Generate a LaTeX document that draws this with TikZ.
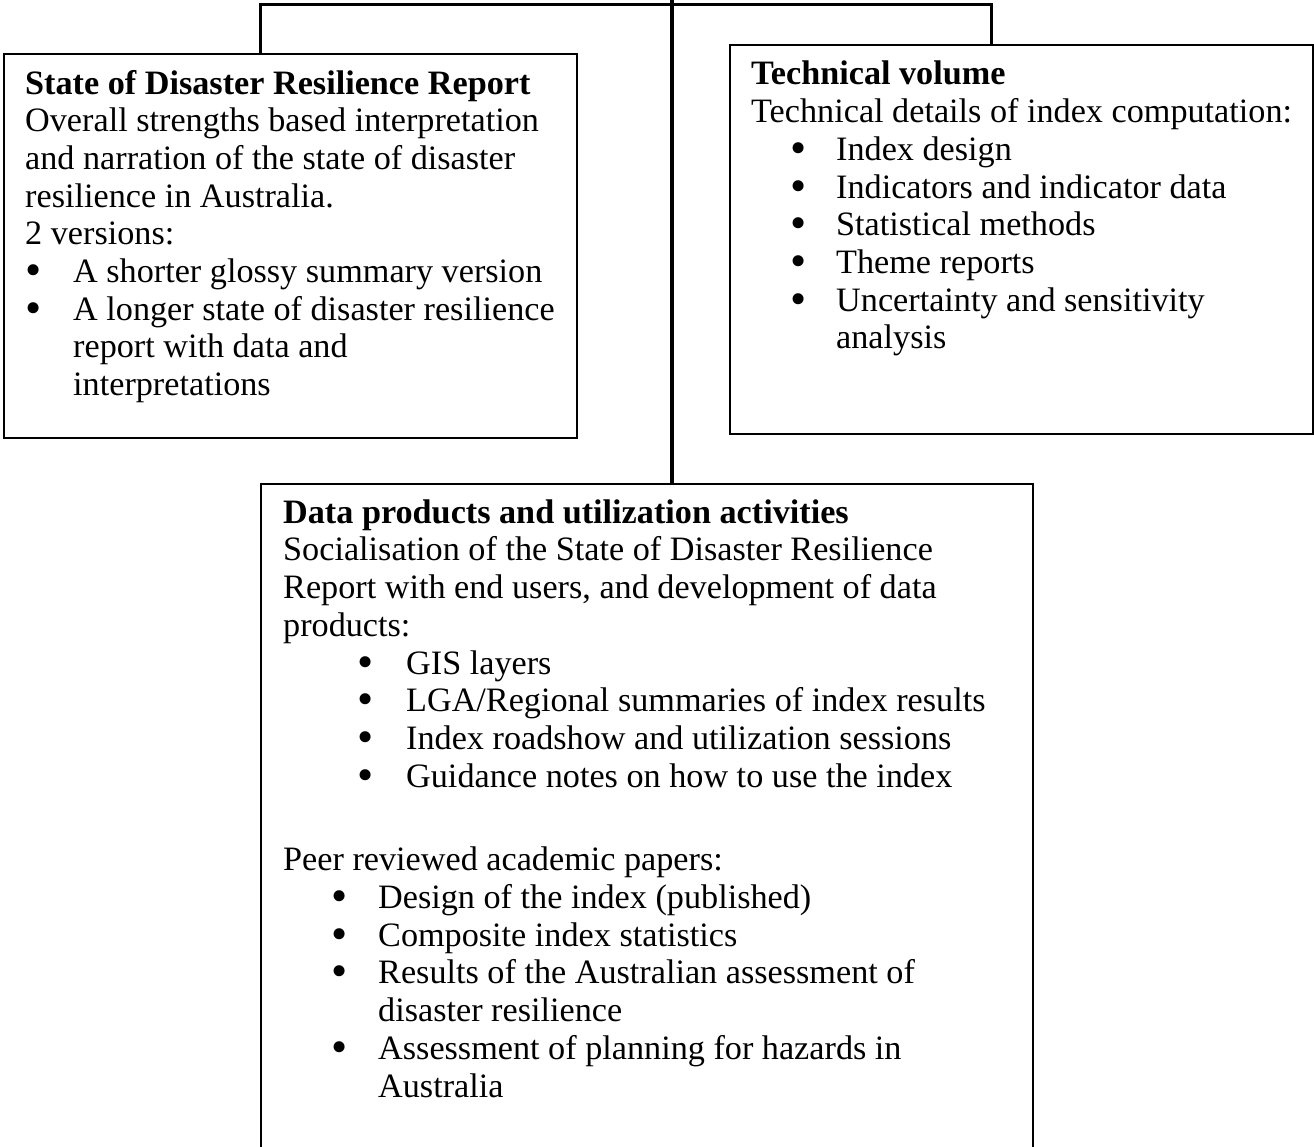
\documentclass[tikz,border=0pt]{standalone}
\usepackage{fontspec}
\setmainfont{Liberation Serif}
\usepackage{tikz}
\usetikzlibrary{positioning}

% bullet with indent and label width
\newcommand{\bul}[2]{\hspace*{#1}\makebox[#2][l]{\smash{\raisebox{-0.09em}{\scalebox{1.35}{\textbullet}}}}}

\begin{document}
\begin{tikzpicture}[x=1pt, y=-1pt,
  box/.style   = {draw, line width=2pt, inner sep=0pt, anchor=north west},
  shell/.style = {inner sep=0pt, anchor=north west},
  txt/.style   = {inner sep=0pt, anchor=base west, align=left,
                  font=\fontsize{34.2pt}{37.7pt}\selectfont},
  link/.style  = {line width=3pt, line cap=rect},
  spine/.style = {line width=4pt},
]
\useasboundingbox (0,0) rectangle (1314,1147);

%% ── Boxes ───────────────────────────────────────────────────────────────────
\node[box, minimum width=573pt, minimum height=384pt] (sdr)  at (3,53)   {};
\node[box, minimum width=583pt, minimum height=389pt] (tech) at (729,44) {};
\node[shell, minimum width=772pt, minimum height=663pt] (data) at (261,484) {};
\draw[line width=2pt] (data.south west) -- (data.north west)
  -- (data.north east) -- (data.south east);

%% ── Connectors ──────────────────────────────────────────────────────────────
\coordinate (top)  at (672,0);
\coordinate (busL) at (260,5);
\coordinate (busR) at (991,5);
\draw[link] (busL |- sdr.north) -- (busL) -- (busR) -- (busR |- tech.north);
\draw[spine] (top) -- (top |- data.north);

%% ── Left box text (anchored at its last baseline) ───────────────────────────
\node[txt] (sdrtext) at (25,395.6) {%
  \textbf{State of Disaster Resilience Report}\\
  Overall strengths based interpretation\\
  and narration of the state of disaster\\
  resilience in Australia.\\
  2 versions:\\
  \bul{0pt}{48pt}A shorter glossy summary version\\
  \bul{0pt}{48pt}A longer state of disaster resilience\\
  \hspace*{48pt}report with data and\\
  \hspace*{48pt}interpretations};

%% ── Right box text ──────────────────────────────────────────────────────────
\node[txt] (techtext) at (751,348.9) {%
  \textbf{Technical volume}\\
  Technical details of index computation:\\
  \bul{39pt}{46pt}Index design\\
  \bul{39pt}{46pt}Indicators and indicator data\\
  \bul{39pt}{46pt}Statistical methods\\
  \bul{39pt}{46pt}Theme reports\\
  \bul{39pt}{46pt}Uncertainty and sensitivity\\
  \hspace*{85pt}analysis};

%% ── Bottom box text ─────────────────────────────────────────────────────────
\node[txt] (datatext) at (283,1097) {%
  \textbf{Data products and utilization activities}\\
  Socialisation of the State of Disaster Resilience\\
  Report with end users, and development of data\\
  products:\\
  \bul{74pt}{49pt}GIS layers\\
  \bul{74pt}{49pt}LGA/Regional summaries of index results\\
  \bul{74pt}{49pt}Index roadshow and utilization sessions\\
  \bul{74pt}{49pt}Guidance notes on how to use the index\\[46pt]
  Peer reviewed academic papers:\\
  \bul{48pt}{47pt}Design of the index (published)\\
  \bul{48pt}{47pt}Composite index statistics\\
  \bul{48pt}{47pt}Results of the Australian assessment of\\
  \hspace*{95pt}disaster resilience\\
  \bul{48pt}{47pt}Assessment of planning for hazards in\\
  \hspace*{95pt}Australia};

\end{tikzpicture}
\end{document}
